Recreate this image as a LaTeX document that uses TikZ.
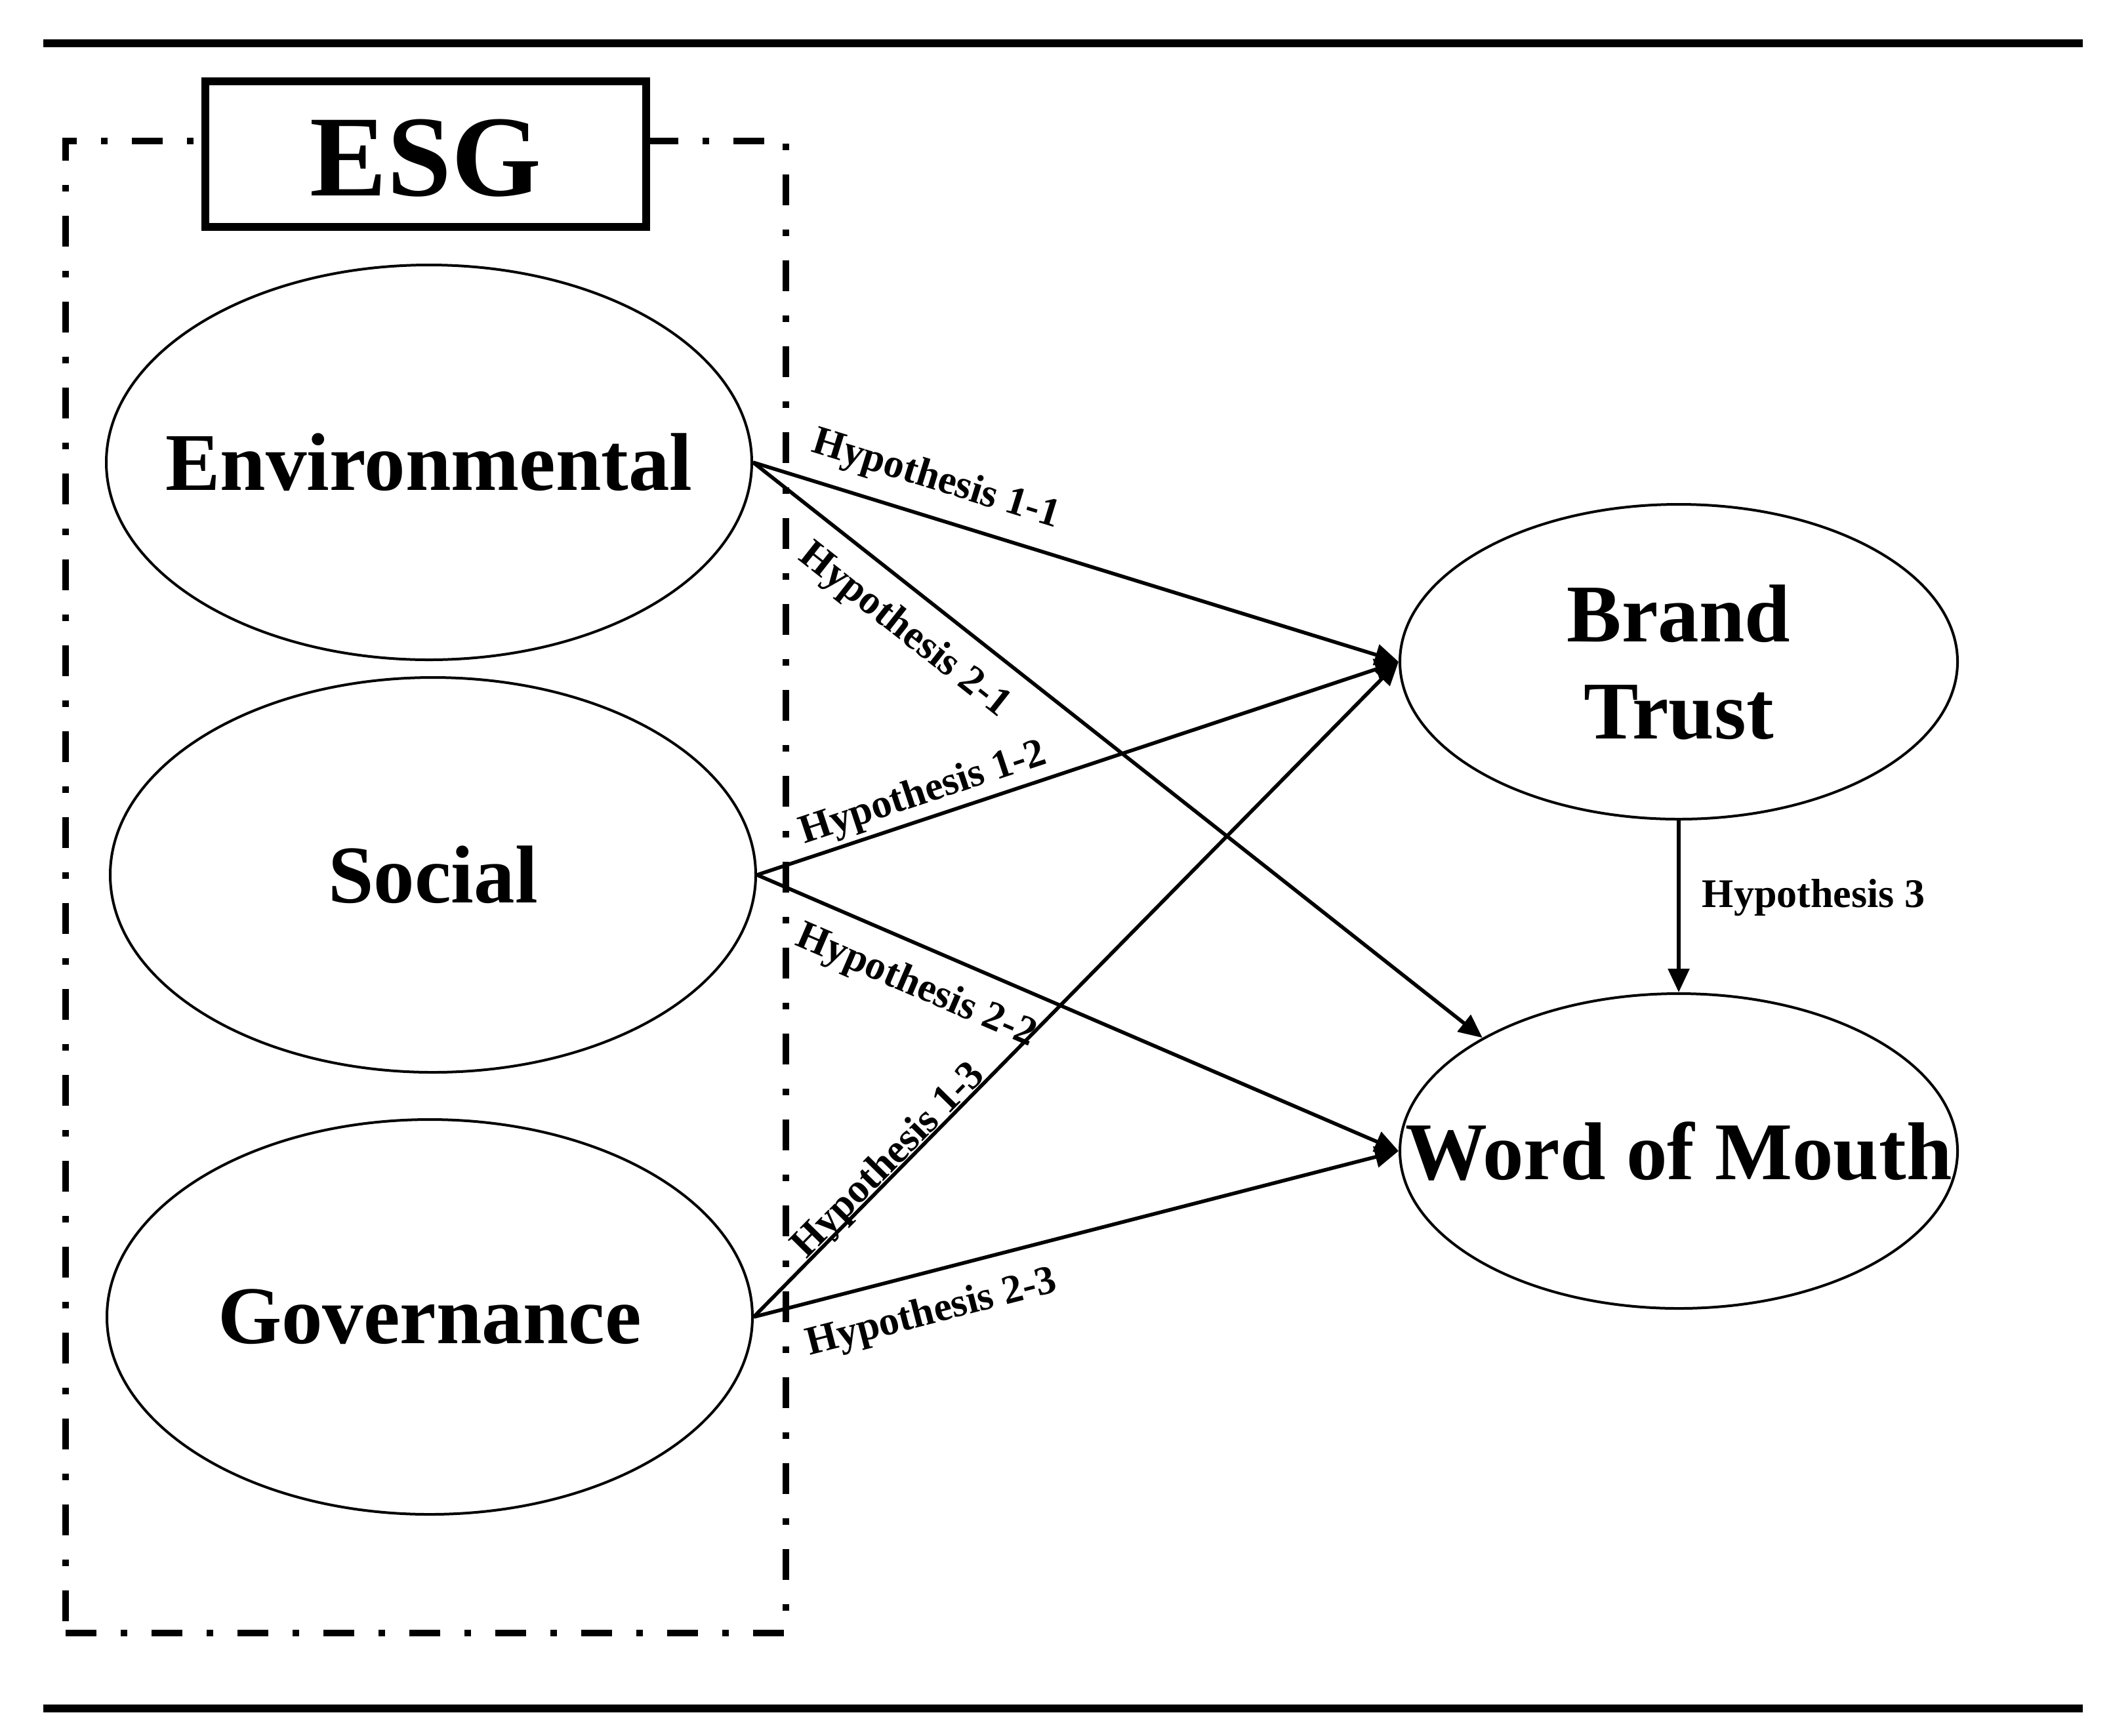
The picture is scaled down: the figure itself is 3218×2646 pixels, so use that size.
\documentclass[tikz,border=0pt]{standalone}
\usepackage{fontspec}
\setmainfont{Liberation Serif}
\usetikzlibrary{shapes.geometric,arrows.meta}
\newcommand{\nowidth}[1]{\makebox[0pt]{#1}}
\begin{document}
\begin{tikzpicture}[x=0.25pt,y=-0.25pt,
  construct/.style={ellipse,draw,line width=1pt,inner sep=0pt,minimum width=246pt,minimum height=150.5pt,font=\fontsize{31.25}{37}\selectfont\bfseries},
  outcome/.style={construct,minimum width=212.5pt,minimum height=120pt},
  hyparrow/.style={draw,line width=1.4pt,-{Triangle[length=9pt,width=8pt]}},
  hyplabel/.style={font=\fontsize{15.5}{18}\selectfont\bfseries,inner sep=0pt},
  rulebar/.style={line width=3pt},
  groupframe/.style={draw,line width=2.5pt,dash pattern=on 11.75pt off 9.25pt on 2.5pt off 9.25pt,minimum width=274.5pt,minimum height=568.75pt,inner sep=0pt},
  esgbox/.style={draw,line width=3pt,fill=white,minimum width=168pt,minimum height=55.5pt,inner sep=0pt}
]
\useasboundingbox (0,0) rectangle (3218,2646);
% rules
\coordinate (tl) at (66,66);
\coordinate (tr) at (3175,66);
\coordinate (bl) at (66,2605);
\coordinate (br) at (3175,2605);
\draw[rulebar] (tl) -- (tr);
\draw[rulebar] (bl) -- (br);
% ESG group
\node[groupframe] (frame) at (649,1352) {};
\node[esgbox,label={[font=\fontsize{44}{50}\selectfont\bfseries,yshift=-1.5pt]center:ESG}] (esg) at (649,235) {};
% constructs
\node[construct] (env) at (654,705) {\nowidth{Environmental}};
\node[construct] (soc) at (660,1334) {\nowidth{Social}};
\node[construct] (gov) at (655,2008) {\nowidth{Governance}};
\node[outcome,label={[font=\fontsize{31.25}{37}\selectfont\bfseries,yshift=-3.5pt]center:{\begin{tabular}{@{}c@{}}Brand\\Trust\end{tabular}}}] (bt) at (2559,1009) {};
\node[outcome] (wom) at (2559,1755) {\nowidth{Word of Mouth}};
% hypotheses
\draw[hyparrow] (env.east) -- node[hyplabel,sloped,pos=0.266,above=6.25pt]{Hypothesis 1-1} (bt.west);
\draw[hyparrow] (env.east) -- node[hyplabel,sloped,pos=0.24,below=7pt]{Hypothesis 2-1} (wom.150);
\draw[hyparrow] (soc.east) -- node[hyplabel,sloped,pos=0.271,above=1.5pt]{Hypothesis 1-2} (bt.west);
\draw[hyparrow] (soc.east) -- node[hyplabel,sloped,pos=0.272,below=7.5pt]{Hypothesis 2-2} (wom.west);
\draw[hyparrow] (gov.east) -- node[hyplabel,sloped,pos=0.224,above=-3pt]{Hypothesis 1-3} (bt.west);
\draw[hyparrow] (gov.east) -- node[hyplabel,sloped,pos=0.26,below=8pt]{Hypothesis 2-3} (wom.west);
\draw[hyparrow] (bt.south) -- node[hyplabel,pos=0.45,right=8.25pt]{Hypothesis 3} (wom.north);
\end{tikzpicture}
\end{document}
